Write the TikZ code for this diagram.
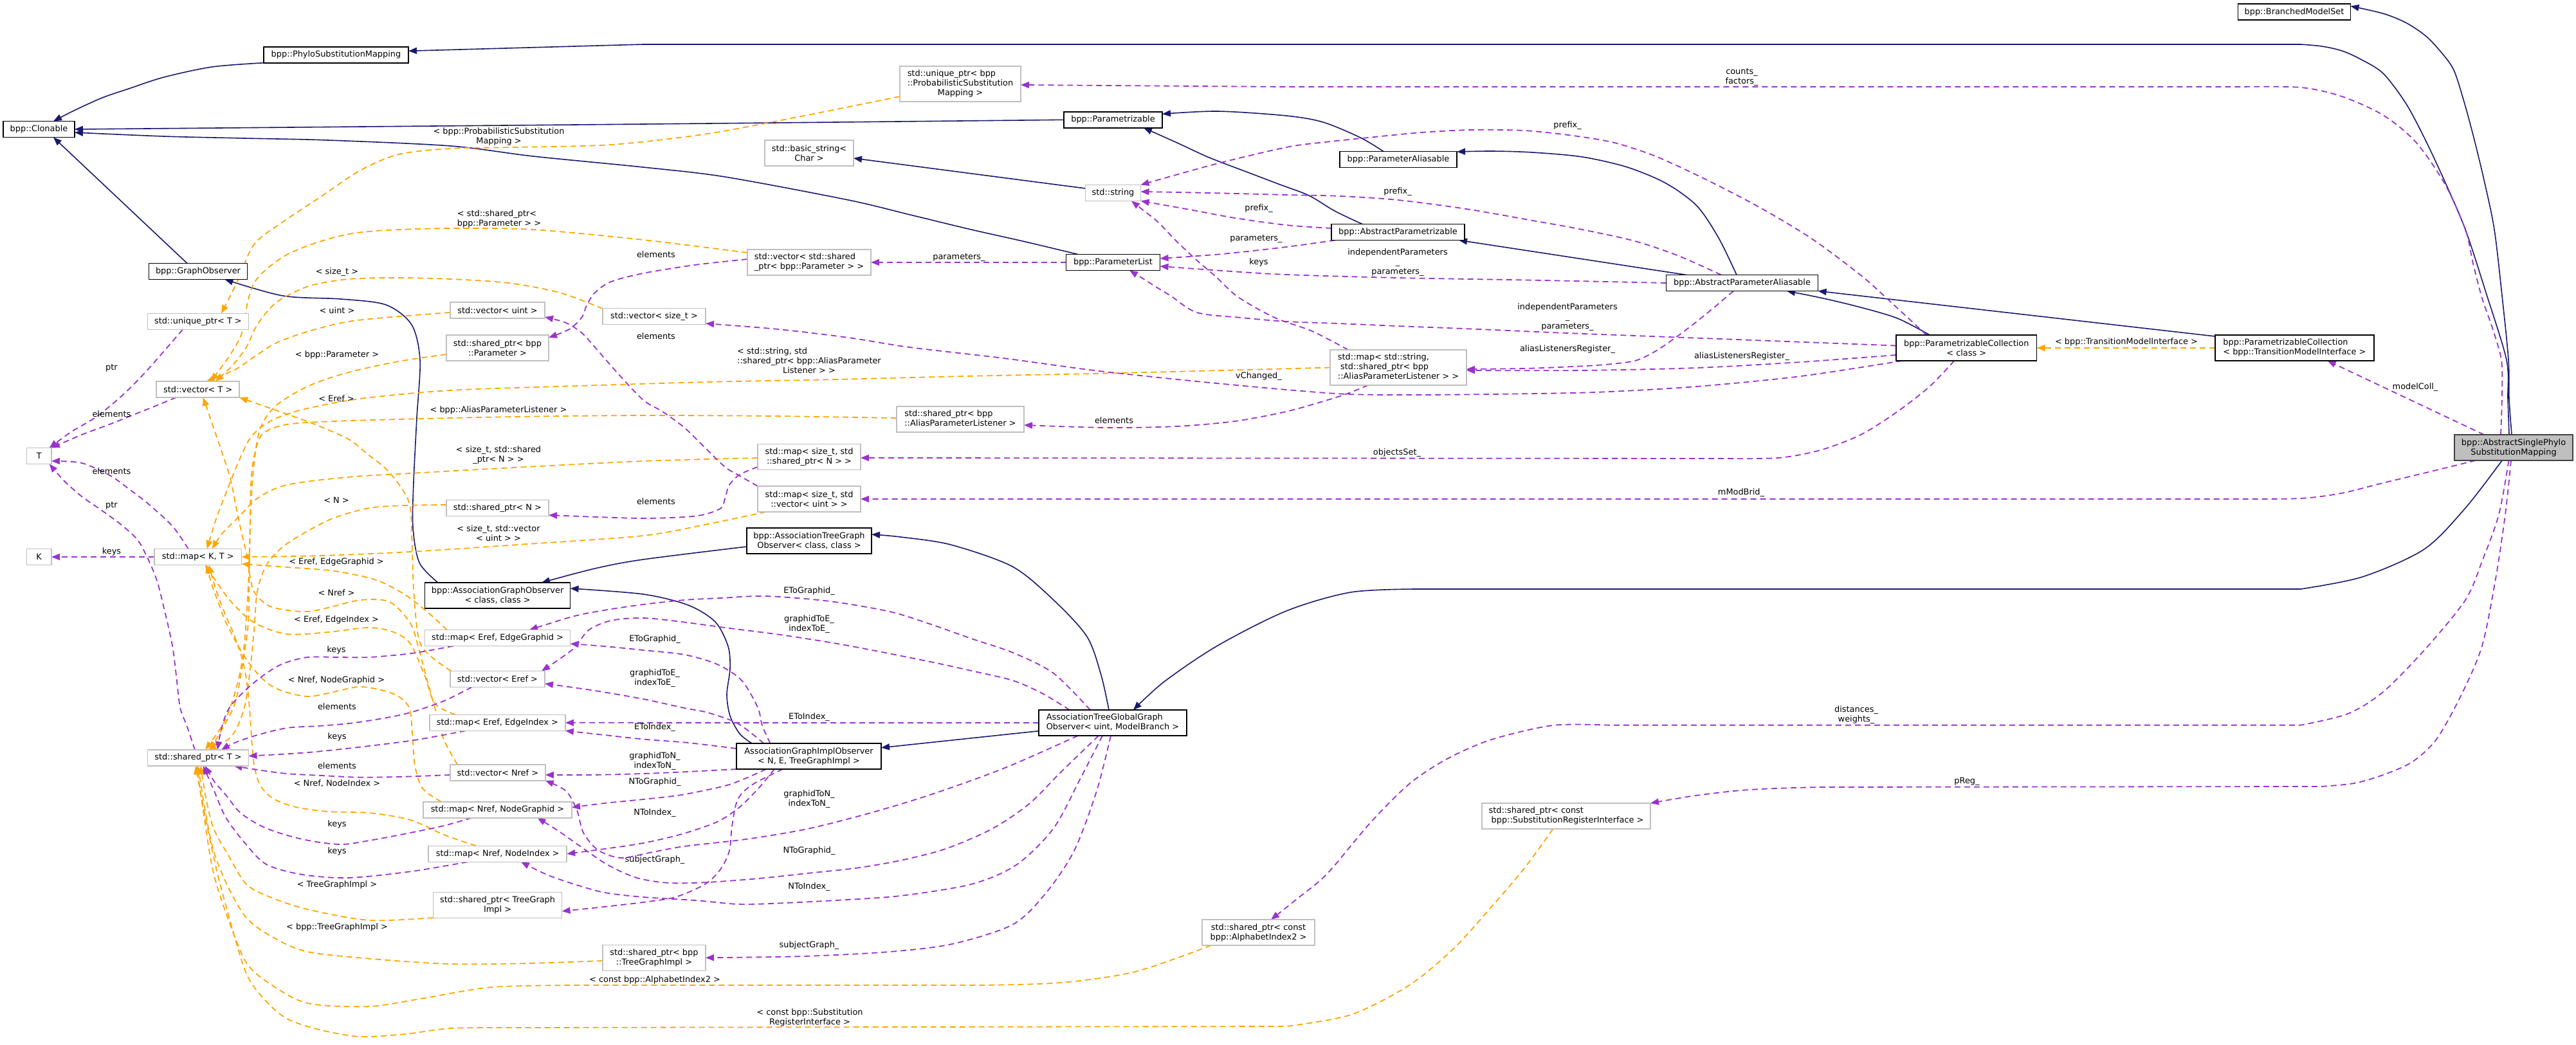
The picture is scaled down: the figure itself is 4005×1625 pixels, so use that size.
\documentclass[tikz,border=0pt]{standalone}
\usepackage{fontspec}
\setmainfont{DejaVu Sans}
\usetikzlibrary{arrows.meta}
\definecolor{edgeblue}{HTML}{191970}
\definecolor{edgepurple}{HTML}{9A32CD}
\definecolor{edgeorange}{HTML}{FFA500}
\definecolor{graybd}{HTML}{BFBFBF}
\definecolor{darkbd}{HTML}{404040}
\pgfdeclarelayer{bg}
\pgfsetlayers{bg,main}
\tikzset{
 fnt/.style={font=\fontsize{12.9pt}{15pt}\selectfont},
 nodebase/.style={fnt, inner sep=0pt, outer sep=0pt, align=center, line width=1.5pt, fill=white},
 clsbox/.style={nodebase, draw=black},
 tplbox/.style={nodebase, draw=graybd},
 mainbox/.style={nodebase, draw=darkbd, fill=graybd},
 lbl/.style={fnt, inner sep=0pt, align=center},
 arrowend/.style={-{Triangle[length=13pt,width=10pt]}},
 inh/.style={draw=edgeblue, line width=1.6pt, arrowend},
 usee/.style={draw=edgepurple, line width=1.8pt, dash pattern=on 9pt off 6pt, arrowend},
 tpledge/.style={draw=edgeorange, line width=1.8pt, dash pattern=on 9pt off 6pt, arrowend},
 sm/.style={smooth, tension=0.5}
}
\begin{document}
\begin{tikzpicture}[x=1pt,y=-1pt]
\useasboundingbox (0,0) rectangle (4005,1625);
% ---------- class nodes ----------
\node[clsbox, minimum width=175pt, minimum height=25pt] (bms) at (3567,18.5) {bpp::BranchedModelSet};
\node[clsbox, minimum width=225pt, minimum height=25pt] (psm) at (522.5,85.25) {bpp::PhyloSubstitutionMapping};
\node[clsbox, minimum width=111pt, minimum height=25pt] (clon) at (60.5,201) {bpp::Clonable};
\node[clsbox, minimum width=153pt, minimum height=25pt] (gobs) at (308,422) {bpp::GraphObserver};
\node[clsbox, minimum width=153pt, minimum height=25pt] (parz) at (1730.5,186.3) {bpp::Parametrizable};
\node[clsbox, minimum width=146pt, minimum height=25pt] (plist) at (1730.5,408) {bpp::ParameterList};
\node[clsbox, minimum width=182pt, minimum height=25pt] (palias) at (2174,248) {bpp::ParameterAliasable};
\node[clsbox, minimum width=207pt, minimum height=25pt] (apz) at (2173.5,361) {bpp::AbstractParametrizable};
\node[clsbox, minimum width=236pt, minimum height=25pt] (apa) at (2708.5,440) {bpp::AbstractParameterAliasable};
\node[clsbox, minimum width=218.7pt, minimum height=40pt] (pcc) at (3057.3,541) {bpp::ParametrizableCollection\\< class >};
\node[clsbox, minimum width=247pt, minimum height=40pt] (pct) at (3567.3,541) {\begin{tabular}{@{}l@{}}bpp::ParametrizableCollection\\< bpp::TransitionModelInterface >\end{tabular}};
\node[mainbox, minimum width=184pt, minimum height=40pt] (asp) at (3908,696) {bpp::AbstractSinglePhylo\\SubstitutionMapping};
\node[clsbox, minimum width=226pt, minimum height=40pt] (ago) at (773.6,926) {bpp::AssociationGraphObserver\\< class, class >};
\node[clsbox, minimum width=194pt, minimum height=40pt] (atgo) at (1258,841) {bpp::AssociationTreeGraph\\Observer< class, class >};
\node[clsbox, minimum width=225pt, minimum height=40pt] (agio) at (1257.5,1176) {AssociationGraphImplObserver\\< N, E, TreeGraphImpl >};
\node[clsbox, minimum width=230pt, minimum height=40pt] (atggo) at (1730,1124) {\begin{tabular}{@{}l@{}}AssociationTreeGlobalGraph\\Observer< uint, ModelBranch >\end{tabular}};
% ---------- template / undocumented nodes ----------
\node[tplbox, minimum width=188pt, minimum height=55pt] (uppsm) at (1493,130.5) {\begin{tabular}{@{}l@{}}std::unique\_ptr< bpp\\::ProbabilisticSubstitution\\\multicolumn{1}{@{}c@{}}{Mapping >}\end{tabular}};
\node[tplbox, minimum width=138pt, minimum height=40pt] (bstr) at (1258,238) {std::basic\_string<\\Char >};
\node[tplbox, minimum width=86pt, minimum height=25pt] (str) at (1730.5,300) {std::string};
\node[tplbox, minimum width=192pt, minimum height=40pt] (vspp) at (1258,408) {\begin{tabular}{@{}l@{}}std::vector< std::shared\\\_ptr< bpp::Parameter > >\end{tabular}};
\node[tplbox, minimum width=157pt, minimum height=25pt] (upt) at (308,500) {std::unique\_ptr< T >};
\node[tplbox, minimum width=147pt, minimum height=25pt] (vuint) at (773.5,482.5) {std::vector< uint >};
\node[tplbox, minimum width=160pt, minimum height=25pt] (vsizet) at (1017,492) {std::vector< size\_t >};
\node[tplbox, minimum width=159pt, minimum height=40pt] (sppar) at (773.5,541) {std::shared\_ptr< bpp\\::Parameter >};
\node[tplbox, minimum width=212pt, minimum height=55pt] (mapsapl) at (2174,571.5) {\begin{tabular}{@{}l@{}}std::map< std::string,\\\ std::shared\_ptr< bpp\\::AliasParameterListener > >\end{tabular}};
\node[tplbox, minimum width=198pt, minimum height=40pt] (spapl) at (1493,652) {\begin{tabular}{@{}l@{}}std::shared\_ptr< bpp\\::AliasParameterListener >\end{tabular}};
\node[tplbox, minimum width=160pt, minimum height=40pt] (mspn) at (1258,710.5) {std::map< size\_t, std\\::shared\_ptr< N > >};
\node[tplbox, minimum width=160pt, minimum height=40pt] (msvu) at (1258,776) {std::map< size\_t, std\\::vector< uint > >};
\node[tplbox, minimum width=129pt, minimum height=25pt] (vect) at (307.7,605.5) {std::vector< T >};
\node[tplbox, minimum width=38.5pt, minimum height=25pt] (tt) at (60.7,709) {T};
\node[tplbox, minimum width=38.5pt, minimum height=25pt] (kk) at (60.7,866) {K};
\node[tplbox, minimum width=135.6pt, minimum height=25pt] (mapkt) at (307.8,866) {std::map< K, T >};
\node[tplbox, minimum width=159pt, minimum height=25pt] (spn) at (773.5,790) {std::shared\_ptr< N >};
\node[tplbox, minimum width=226pt, minimum height=25pt] (meeg) at (773.6,992) {std::map< Eref, EdgeGraphid >};
\node[tplbox, minimum width=147pt, minimum height=25pt] (veref) at (773.5,1056) {std::vector< Eref >};
\node[tplbox, minimum width=157pt, minimum height=25pt] (spt) at (308,1178.5) {std::shared\_ptr< T >};
\node[tplbox, minimum width=211pt, minimum height=25pt] (meei) at (773.4,1123.8) {std::map< Eref, EdgeIndex >};
\node[tplbox, minimum width=148pt, minimum height=25pt] (vnref) at (773.8,1201.3) {std::vector< Nref >};
\node[tplbox, minimum width=231pt, minimum height=25pt] (mnng) at (773.5,1259.3) {std::map< Nref, NodeGraphid >};
\node[tplbox, minimum width=215pt, minimum height=25pt] (mnni) at (773.7,1327.8) {std::map< Nref, NodeIndex >};
\node[tplbox, minimum width=200pt, minimum height=40pt] (sptgi) at (773.6,1407.6) {std::shared\_ptr< TreeGraph\\Impl >};
\node[tplbox, minimum width=160pt, minimum height=40pt] (spbtgi) at (1017,1489.3) {std::shared\_ptr< bpp\\::TreeGraphImpl >};
\node[tplbox, minimum width=175pt, minimum height=40pt] (spai) at (1956.5,1450) {std::shared\_ptr< const\\bpp::AlphabetIndex2 >};
\node[tplbox, minimum width=262pt, minimum height=40pt] (spsri) at (2435,1269) {\begin{tabular}{@{}l@{}}std::shared\_ptr< const\\\ bpp::SubstitutionRegisterInterface >\end{tabular}};
% ---------- edge labels ----------
\node[lbl] (lab1) at (775.5,212) {< bpp::ProbabilisticSubstitution\\Mapping >};
\node[lbl] (lab2) at (776,341) {\begin{tabular}{@{}l@{}}< std::shared\_ptr<\\bpp::Parameter > >\end{tabular}};
\node[lbl] (lab3) at (524,423) {< size\_t >};
\node[lbl] (lab4) at (524,483) {< uint >};
\node[lbl] (lab5) at (524,552) {< bpp::Parameter >};
\node[lbl] (lab6) at (1020,396) {elements};
\node[lbl] (lab7) at (1020,523) {elements};
\node[lbl] (lab8) at (1491,400) {parameters\_};
\node[lbl] (lab9) at (1957,324) {prefix\_};
\node[lbl] (lab10) at (1953,371) {parameters\_};
\node[lbl] (lab11) at (1957,408) {keys};
\node[lbl] (lab12) at (2708,120) {counts\_\\factors\_};
\node[lbl] (lab13) at (2437,195) {prefix\_};
\node[lbl] (lab14) at (2173,298) {prefix\_};
\node[lbl] (lab15) at (2173,408) {independentParameters\\\_\\parameters\_};
\node[lbl] (lab16) at (2437,493) {independentParameters\\\_\\parameters\_};
\node[lbl] (lab17) at (2437,543) {aliasListenersRegister\_};
\node[lbl] (lab18) at (2708,554) {aliasListenersRegister\_};
\node[lbl] (lab19) at (3306,532) {< bpp::TransitionModelInterface >};
\node[lbl] (lab20) at (3755,602.5) {modelColl\_};
\node[lbl] (lab21) at (173.5,572) {ptr};
\node[lbl] (lab22) at (173.5,643.6) {elements};
\node[lbl] (lab23) at (173.5,733) {elements};
\node[lbl] (lab24) at (173.5,786) {ptr};
\node[lbl] (lab25) at (173.5,858) {keys};
\node[lbl] (lab26) at (523,620) {< Eref >};
\node[lbl] (lab27) at (775,638) {< bpp::AliasParameterListener >};
\node[lbl] (lab28) at (775,708) {< size\_t, std::shared\\\_ptr< N > >};
\node[lbl] (lab29) at (523,778) {< N >};
\node[lbl] (lab30) at (775,829) {< size\_t, std::vector\\< uint > >};
\node[lbl] (lab31) at (523,874) {< Eref, EdgeGraphid >};
\node[lbl] (lab32) at (523,922) {< Nref >};
\node[lbl] (lab33) at (523,964) {< Eref, EdgeIndex >};
\node[lbl] (lab34) at (523,1011) {keys};
\node[lbl] (lab35) at (523,1058) {< Nref, NodeGraphid >};
\node[lbl] (lab36) at (524,1099) {elements};
\node[lbl] (lab37) at (524,1146) {keys};
\node[lbl] (lab38) at (524,1191) {elements};
\node[lbl] (lab39) at (524,1218) {< Nref, NodeIndex >};
\node[lbl] (lab40) at (524,1282) {keys};
\node[lbl] (lab41) at (524,1324) {keys};
\node[lbl] (lab42) at (524,1376) {< TreeGraphImpl >};
\node[lbl] (lab43) at (524,1442) {< bpp::TreeGraphImpl >};
\node[lbl] (lab44) at (1018,1524) {< const bpp::AlphabetIndex2 >};
\node[lbl] (lab45) at (1259,1582.5) {< const bpp::Substitution\\RegisterInterface >};
\node[lbl] (lab46) at (1258,562) {\begin{tabular}{@{}l@{}}< std::string, std\\::shared\_ptr< bpp::AliasParameter\\\multicolumn{1}{@{}c@{}}{Listener > >}\end{tabular}};
\node[lbl] (lab47) at (1957,585) {vChanged\_};
\node[lbl] (lab48) at (1732,654) {elements};
\node[lbl] (lab49) at (1020,780) {elements};
\node[lbl] (lab50) at (1258,919) {EToGraphid\_};
\node[lbl] (lab51) at (1258,971) {graphidToE\_\\indexToE\_};
\node[lbl] (lab52) at (1018,994) {EToGraphid\_};
\node[lbl] (lab53) at (1018,1055) {graphidToE\_\\indexToE\_};
\node[lbl] (lab54) at (2172,704) {objectsSet\_};
\node[lbl] (lab55) at (2707,766) {mModBrid\_};
\node[lbl] (lab56) at (1258,1115.5) {EToIndex\_};
\node[lbl] (lab57) at (1258,1243) {graphidToN\_\\indexToN\_};
\node[lbl] (lab58) at (1258,1323) {NToGraphid\_};
\node[lbl] (lab59) at (1258,1379) {NToIndex\_};
\node[lbl] (lab60) at (1258,1470) {subjectGraph\_};
\node[lbl] (lab61) at (1018,1131.4) {EToIndex\_};
\node[lbl] (lab62) at (1018,1184) {graphidToN\_\\indexToN\_};
\node[lbl] (lab63) at (1018,1216.6) {NToGraphid\_};
\node[lbl] (lab64) at (1018,1264) {NToIndex\_};
\node[lbl] (lab65) at (1018,1337) {subjectGraph\_};
\node[lbl] (lab66) at (2886,1111.5) {distances\_\\weights\_};
\node[lbl] (lab67) at (3058,1215.6) {pReg\_};
\begin{pgfonlayer}{bg}
\fill[white] (0,0) rectangle (4005,1625);
% ---------- inheritance ----------
\draw[inh] plot[sm] coordinates {([xshift=-3pt]asp.north) (3901,620) (3900,560) (3890,460) (3878,357) (3862,280) (3846,214) (3830,155) (3814,107) (3790,75) (3769,54) (3740,35) (3705,21) ([yshift=9pt]bms.east)};
\draw[inh] plot[sm] coordinates {([xshift=-7pt]asp.north) (3899,620) (3897,560) (3865,455) (3833,357) (3800,280) (3769,214) (3740,160) (3705,114) (3670,92) (3641,79) (3610,72) (3577,69)} -- (1000,69) -- ([yshift=6pt]psm.east);
\draw[inh] plot[sm] coordinates {(psm.south west) (330,104) (255,120) (200,138) (159,152) (115,172) ([xshift=22.5pt]clon.north)};
\draw[inh] plot[sm] coordinates {(parz.west) (1000,193) (clon.east)};
\draw[inh] plot[sm] coordinates {([xshift=-54.5pt]plist.north) (1590,375) (1510,357) (1415,334) (1319,311) (1127,275) (1000,260) (829,243) (701,227) (510,218) (380,215) (255,212) ([yshift=-5pt]clon.east)};
\draw[inh] ([xshift=-17pt]gobs.north) -- ([xshift=22.5pt]clon.south);
\draw[inh] plot[sm] coordinates {([xshift=-92.6pt]ago.north) (652,875) (642,820) (643,750) (648,650) (653,560) (640,505) (600,474) (530,465) (440,460) ([xshift=41.5pt]gobs.south)};
\draw[inh] plot[sm] coordinates {([yshift=-9pt]atgo.west) (1000,870) (925,884) ([xshift=68.4pt]ago.north)};
\draw[inh] plot[sm] coordinates {([xshift=-88.5pt]agio.north) (1150,1141) (1135,1113) (1130,1080) (1135,1040) (1132,1005) (1112,967) (1070,941) (1000,924) ([yshift=11pt]ago.east)};
\draw[inh] plot[sm] coordinates {([xshift=-6pt]atggo.north) (1712,1050) (1690,990) (1638,933) (1574,881) (1478,847) (1400,835) ([yshift=10pt]atgo.east)};
\draw[inh] ([yshift=-12.7pt]atggo.west) -- ([yshift=13.3pt]agio.east);
\draw[inh] plot[sm] coordinates {([xshift=-18pt]asp.south) (3833,790) (3769,854) (3673,897) (3577,916)} -- (2200,916) --plot[sm] coordinates {(2200,916) (2100,921) (2000,950) (1893,1004) (1810,1060) ([xshift=32pt]atggo.north)};
\draw[inh] plot[sm] coordinates {([xshift=-55.5pt]apz.north) (2075,328) (2035,304) (1990,287) (1940,268) (1880,245) (1830,222) ([xshift=47.5pt]parz.south)};
\draw[inh] plot[sm] coordinates {([xshift=-23pt]palias.north) (2115,214) (2057,190) (2000,180) (1893,173) ([yshift=9pt]parz.east)};
\draw[inh] ([xshift=-86.5pt]apa.north) -- ([xshift=94.5pt]apz.south);
\draw[inh] plot[sm] coordinates {([xshift=-8.5pt]apa.north) (2672,370) (2638,320) (2590,285) (2530,260) (2460,244) (2383,237) (2320,235) ([yshift=12pt]palias.east)};
\draw[inh] plot[sm] coordinates {([xshift=-57pt]pcc.north) (2950,495) (2893,478) (2835,464) ([xshift=69.5pt]apa.south)};
\draw[inh] ([yshift=18pt]pct.west) -- (apa.south east);
\draw[inh] ([yshift=7pt]str.west) -- ([yshift=-8pt]bstr.east);
% ---------- template instances ----------
\draw[tpledge] (pct.west) -- (pcc.east);
\draw[tpledge] plot[sm] coordinates {([yshift=-19.5pt]uppsm.west) (1250,180) (1100,208) (950,225) (800,229) (700,231) (620,240) (560,265) (500,305) (440,345) (395,380) (368,440) ([xshift=36pt]upt.north)};
\draw[tpledge] plot[sm] coordinates {([yshift=15pt]vspp.west) (1000,373) (829,357) (701,355) (600,358) (542,364) (490,378) (446,396) (415,418) (395,440) (385,470) (376,518) (357,553) ([xshift=20pt]vect.north)};
\draw[tpledge] plot[sm] coordinates {([yshift=12pt]vsizet.west) (870,455) (790,440) (701,434) (620,432) (542,434) (480,445) (430,470) (400,505) (383,540) (360,570) ([xshift=27pt]vect.north)};
\draw[tpledge] plot[sm] coordinates {([yshift=-3.5pt]vuint.west) (620,492) (542,500) (480,515) (430,533) (395,555) (365,575) ([xshift=13pt]vect.north)};
\draw[tpledge] plot[sm] coordinates {([yshift=-10pt]sppar.west) (620,562) (542,579) (480,600) (430,630) (405,665) (395,720) (390,790) (388,850) (386,910) (380,1000) (370,1060) (350,1120) ([xshift=11pt]spt.north)};
\draw[tpledge] plot[sm] coordinates {([xshift=-72pt]veref.north) (655,1004) (644,930) (641,860) (638,790) (625,760) (600,729) (570,705) (542,683) (490,660) (446,644) (vect.south east)};
\draw[tpledge] plot[sm] coordinates {([yshift=2pt]spapl.west) (1200,647) (1000,646) (800,648) (620,652) (520,655) (446,660) (408,675) (395,710) (390,754) (389,810) (388,861) (387,915) (386,969) (376,1040) (363,1100) ([xshift=18pt]spt.north)};
\draw[tpledge] plot[sm] coordinates {(mapsapl.west) (1900,576) (1700,581) (1500,585) (1300,590) (1100,594) (900,600) (700,607) (560,620) (470,637) (420,655) (390,680) (370,720) (350,770) (335,810) ([xshift=14pt]mapkt.north)};
\draw[tpledge] plot[sm] coordinates {([yshift=-1.5pt]mspn.west) (1000,717) (800,727) (638,736) (540,742) (446,754) (400,775) (370,805) (345,830) ([xshift=22pt]mapkt.north)};
\draw[tpledge] plot[sm] coordinates {([yshift=5pt]spn.west) (630,786) (574,790) (520,805) (478,826) (440,850) (414,879) (400,920) (395,980) (389,1040) (380,1100) (360,1145) ([xshift=15pt]spt.north)};
\draw[tpledge] plot[sm] coordinates {([xshift=-67pt]msvu.south) (1100,815) (1000,833) (820,846) (638,858) (500,864) (mapkt.east)};
\draw[tpledge] plot[sm] coordinates {([xshift=-78.6pt]meeg.north) (665,952) (630,925) (585,902) (520,888) (446,882) ([yshift=-11pt]mapkt.east)};
\draw[tpledge] plot[sm] coordinates {([xshift=-62.8pt]vnref.north) (690,1150) (676,1100) (662,1050) (650,1005) (638,969) (606,936) (561,933) (510,945) (478,951) (440,948) (414,940) (395,920) (389,897) (383,860) (375,826) (366,783) (357,740) (332,665) ([xshift=8pt]vect.south)};
\draw[tpledge] plot[sm] coordinates {([xshift=-65.4pt]meei.north) (676,1094) (660,1050) (638,1001) (612,983) (574,976) (510,983) (446,986) (395,968) (357,933) ([xshift=11pt]mapkt.south)};
\draw[tpledge] plot[sm] coordinates {([xshift=-87.5pt]mnng.north) (657,1226) (645,1190) (641,1140) (636,1100) (612,1079) (561,1068) (510,1078) (478,1083) (440,1075) (414,1061) (390,1035) (370,1004) (350,965) (338,933) (328,905) ([xshift=14pt]mapkt.south)};
\draw[tpledge] plot[sm] coordinates {([xshift=-33.5pt]mnni.north) (690,1298) (638,1275) (574,1264) (510,1262) (460,1255) (425,1242) (405,1222) (396,1195) (392,1160) (389,1116) (385,1070) (378,1030) (365,990) (350,955) (335,915) ([xshift=17pt]mapkt.south)};
\draw[tpledge] plot[sm] coordinates {([yshift=-19.4pt]sptgi.west) (574,1431) (478,1414) (420,1395) (383,1375) (355,1330) (332,1288) (320,1240) ([xshift=4pt]spt.south)};
\draw[tpledge] plot[sm] coordinates {([yshift=-4.7pt]spbtgi.west) (820,1498) (701,1499) (590,1492) (478,1480) (420,1455) (383,1427) (355,1380) (332,1323) (318,1255) (spt.south)};
\draw[tpledge] plot[sm] coordinates {([xshift=-73.5pt]spai.south) (1765,1511) (1650,1528) (1529,1532)} -- (900,1532) --plot[sm] coordinates {(900,1532) (765,1535) (660,1552) (574,1565) (478,1560) (420,1530) (383,1497) (355,1430) (332,1358) (318,1275) ([xshift=-2pt]spt.south)};
\draw[tpledge] plot[sm] coordinates {([xshift=-20.5pt]spsri.south) (2370,1350) (2319,1410) (2260,1475) (2191,1532) (2100,1578) (2000,1596)} -- (800,1598) --plot[sm] coordinates {(800,1598) (701,1599) (630,1608) (561,1612) (500,1602) (446,1584) (410,1553) (383,1514) (360,1440) (338,1358) (320,1275) ([xshift=-4pt]spt.south)};
% ---------- usage (members) ----------
\draw[usee] plot[sm] coordinates {([xshift=-20pt]asp.north) (3890,615) (3889,560) (3875,510) (3859,464) (3845,410) (3833,357) (3801,286) (3756,221) (3705,179) (3641,150) (3577,136) (3480,135)} -- (2000,135) -- ([yshift=-1.5pt]uppsm.east);
\draw[usee] plot[sm] coordinates {([xshift=-62pt]pcc.north) (2940,470) (2893,428) (2815,370) (2733,321) (2650,278) (2574,243) (2510,222) (2446,211) (2370,203) (2287,202) (2210,206) (2127,214) (2060,221) (2000,229) (1890,255) (str.north east)};
\draw[usee] plot[sm] coordinates {([xshift=-32.5pt]apa.north) (2610,398) (2542,375) (2460,357) (2383,343) (2280,325) (2173,311) (2085,305) (2000,303) (1880,300) ([yshift=2pt]str.east)};
\draw[usee] plot[sm] coordinates {([yshift=6pt]apz.west) (2000,350) (1920,339) (1850,326) (str.south east)};
\draw[usee] plot[sm] coordinates {([xshift=-78pt]mapsapl.north) (2040,515) (1982,494) (1925,462) (1890,430) (1861,405) (1829,375) (1800,345) (1775,325) ([xshift=28.5pt]str.south)};
\draw[usee] plot[sm] coordinates {([xshift=-97.5pt]apz.south) (2000,384) (1900,395) ([yshift=6pt]plist.east)};
\draw[usee] plot[sm] coordinates {(apa.west) (2400,436) (2173,432) (2000,427) (1900,421) ([yshift=-6pt]plist.east)};
\draw[usee] plot[sm] coordinates {([yshift=3.5pt]pcc.west) (2700,528) (2437,518) (2300,512) (2173,507) (2080,503) (2000,500) (1930,494) (1861,486) (1820,460) (1797,446) (1775,432) ([xshift=25.5pt]plist.south)};
\draw[usee] plot[sm] coordinates {([xshift=-13.5pt]apa.south) (2665,478) (2638,500) (2605,525) (2574,546) (2542,561) (2495,567) (2446,570) (2370,573) ([yshift=-2.5pt]mapsapl.east)};
\draw[usee] plot[sm] coordinates {([yshift=-11pt]pcc.west) (2800,563) (2638,572) (2460,576) ([yshift=-4.5pt]mapsapl.east)};
\draw[usee] plot[sm] coordinates {([xshift=-100pt]pcc.south) (2800,585) (2638,601) (2480,610) (2319,613) (2200,614) (2096,613) (2000,606) (1850,592) (1701,576) (1560,557) (1414,540) (1319,525) (1210,512) ([yshift=-11pt]vsizet.east)};
\draw[usee] plot[sm] coordinates {([xshift=-47pt]mapsapl.south) (2095,612) (2064,622) (2000,640) (1920,655) (1829,663) (1720,665) ([yshift=-9pt]spapl.east)};
\draw[usee] plot[sm] coordinates {([xshift=-19pt]pcc.south) (3000,601) (2950,640) (2893,676) (2830,700) (2765,712) (2680,713)} -- ([yshift=-1.5pt]mspn.east);
\draw[usee] plot[sm] coordinates {([xshift=-59pt]asp.south) (3780,733) (3705,751) (3640,767) (3577,775) (3480,776)} -- (msvu.east);
\draw[usee] ([xshift=-46pt]asp.north) -- ([xshift=51.3pt]pct.south);
\draw[usee] plot[sm] coordinates {([xshift=-7.5pt]asp.south) (3885,800) (3860,870) (3833,933) (3770,1010) (3705,1076) (3650,1110) (3577,1127.6)} -- (2500,1127.6) --plot[sm] coordinates {(2500,1127.6) (2414,1128) (2319,1150) (2250,1180) (2191,1219) (2130,1280) (2064,1358) (2020,1395) ([xshift=19.5pt]spai.north)};
\draw[usee] plot[sm] coordinates {([xshift=-4pt]asp.south) (3895,800) (3880,900) (3859,1004) (3827,1080) (3788,1149.5) (3750,1185) (3705,1205) (3660,1218) (3609,1223)} -- (2829,1224) --plot[sm] coordinates {(2829,1224) (2760,1226) (2701,1229.5) (2630,1238) (spsri.north east)};
\draw[usee] plot[sm] coordinates {([xshift=-3pt]atggo.south) (1705,1230) (1670,1323) (1625,1390) (1574,1438) (1480,1468) (1383,1480) (1250,1487) (spbtgi.east)};
\draw[usee] plot[sm] coordinates {([xshift=-40.5pt]agio.south) (1170,1220) (1147,1243) (1138,1285) (1134,1323) (1120,1352) (1096,1375) (1050,1395) (1000,1403) (940,1410) ([yshift=-9.4pt]sptgi.east)};
\draw[usee] plot[sm] coordinates {([xshift=-35pt]atggo.north) (1638,1047) (1575,1015) (1510,993) (1445,970) (1383,951) (1290,935) (1191,927) (1120,930) (1064,933) (1000,940) (945,948) (893,958) ([xshift=49.4pt]meeg.north)};
\draw[usee] plot[sm] coordinates {([xshift=-60pt]agio.north) (1185,1128) (1178,1100) (1153,1058) (1115,1033) (1064,1018) (1000,1011) (940,1005) ([yshift=-9pt]meeg.east)};
\draw[usee] plot[sm] coordinates {([xshift=-67pt]atggo.north) (1620,1078) (1574,1058) (1510,1043) (1446,1029) (1319,1004) (1220,988) (1127,976) (1060,967) (1000,961) (950,965) (915,980) (890,1010) ([xshift=68.5pt]veref.north)};
\draw[usee] plot[sm] coordinates {([xshift=-70pt]agio.north) (1147,1125) (1100,1108) (1064,1101) (1000,1087) (925,1074) ([yshift=-7pt]veref.east)};
\draw[usee] (atggo.west) -- (meei.east);
\draw[usee] plot[sm] coordinates {([yshift=12pt]agio.west) (1070,1155) (1000,1149.5) (940,1143) (meei.south east)};
\draw[usee] plot[sm] coordinates {(agio.south west) (1070,1200) (1000,1203) (920,1205) ([yshift=-3.7pt]vnref.east)};
\draw[usee] plot[sm] coordinates {([xshift=-54pt]atggo.south) (1560,1195) (1446,1236) (1350,1265) (1255,1289) (1160,1305) (1064,1316) (1010,1326) (965,1334) (930,1322) (907,1295) (897,1260) (880,1230) (vnref.south east)};
\draw[usee] plot[sm] coordinates {([xshift=-66.5pt]agio.south) (1160,1210) (1127,1222) (1060,1236) (1000,1243) (940,1249) ([yshift=3.8pt]mnng.east)};
\draw[usee] plot[sm] coordinates {([xshift=-22pt]atggo.south) (1650,1200) (1600,1250) (1542,1289) (1470,1320) (1400,1338) (1330,1350) (1255,1358) (1180,1366) (1100,1372) (1040,1373) (990,1365) (945,1345) (905,1318) (868,1292) ([xshift=62pt]mnng.south)};
\draw[usee] plot[sm] coordinates {([xshift=-53.5pt]agio.south) (1180,1225) (1150,1255) (1115,1278) (1060,1297) (1000,1311) (940,1320) (mnni.east)};
\draw[usee] plot[sm] coordinates {([xshift=-16pt]atggo.south) (1680,1210) (1638,1288) (1580,1345) (1510,1375) (1400,1393) (1300,1400) (1200,1405) (1147,1406) (1080,1400) (1000,1395) (940,1388) (893,1375) (850,1360) ([xshift=36.3pt]mnni.south)};
% left side members
\draw[usee] plot[sm] coordinates {([xshift=-24pt]upt.south) (255,546) (225,580) (190,615) (150,648) (110,672) ([xshift=16pt]tt.north)};
\draw[usee] plot[sm] coordinates {([xshift=-33.7pt]vect.south) (240,632) (210,644) (170,660) (127,676) (tt.north east)};
\draw[usee] plot[sm] coordinates {([xshift=-15pt]mapkt.north) (268,818) (230,783) (200,760) (172,740) (127,720) ([yshift=-8pt]tt.east)};
\draw[usee] plot[sm] coordinates {([xshift=-5pt]spt.north) (291,1130) (280,1100) (274,1050) (268,1004) (256,950) (242,897) (217,844) (191,818) (160,795) (127,772) (100,748) ([xshift=16pt]tt.south)};
\draw[usee] (mapkt.west) -- (kk.east);
\draw[usee] plot[sm] coordinates {([xshift=-68.6pt]meeg.south) (640,1016) (574,1022) (526,1022) (478,1022) (440,1032) (414,1047) (385,1070) (357,1100) (345,1130) ([xshift=30pt]spt.north)};
\draw[usee] plot[sm] coordinates {([xshift=-40pt]veref.south) (690,1090) (638,1108) (590,1118) (542,1125) (494,1129) (446,1132) (400,1143) (365,1155) ([xshift=36pt]spt.north)};
\draw[usee] plot[sm] coordinates {([xshift=-49.4pt]meei.south) (650,1150) (574,1160) (480,1170) ([yshift=2.9pt]spt.east)};
\draw[usee] plot[sm] coordinates {([yshift=-3.7pt]vnref.west) (620,1208) (555,1208.6) (500,1206) (446,1203) (400,1197) ([xshift=55.5pt]spt.south)};
\draw[usee] plot[sm] coordinates {([xshift=-40pt]mnng.south) (690,1284) (638,1295) (580,1306) (529,1313) (470,1305) (414,1288) (375,1265) (351,1236) (333,1215) ([xshift=11pt]spt.south)};
\draw[usee] plot[sm] coordinates {([xshift=-46.7pt]mnni.south) (640,1355) (542,1365) (470,1360) (414,1344) (380,1310) (351,1271) (333,1230) ([xshift=8pt]spt.south)};
% middle members
\draw[usee] (plist.west) -- (vspp.east);
\draw[usee] plot[sm] coordinates {([yshift=5pt]vspp.west) (1080,412) (1000,425) (950,438) (925,455) (912,475) (905,493) (885,512) ([yshift=-4pt]sppar.north east)};
\draw[usee] plot[sm] coordinates {([yshift=-15.5pt]mspn.west) (1150,738) (1134,754) (1128,772) (1121,790) (1095,800) (1064,804) (1000,806) (930,804) ([yshift=-11pt]spn.east)};
\draw[usee] plot[sm] coordinates {(msvu.north west) (1150,740) (1127,726) (1095,695) (1064,665) (1030,640) (1000,622) (960,580) (925,540) (905,518) (880,502) ([yshift=-10.5pt]vuint.east)};
\end{pgfonlayer}
\end{tikzpicture}
\end{document}
